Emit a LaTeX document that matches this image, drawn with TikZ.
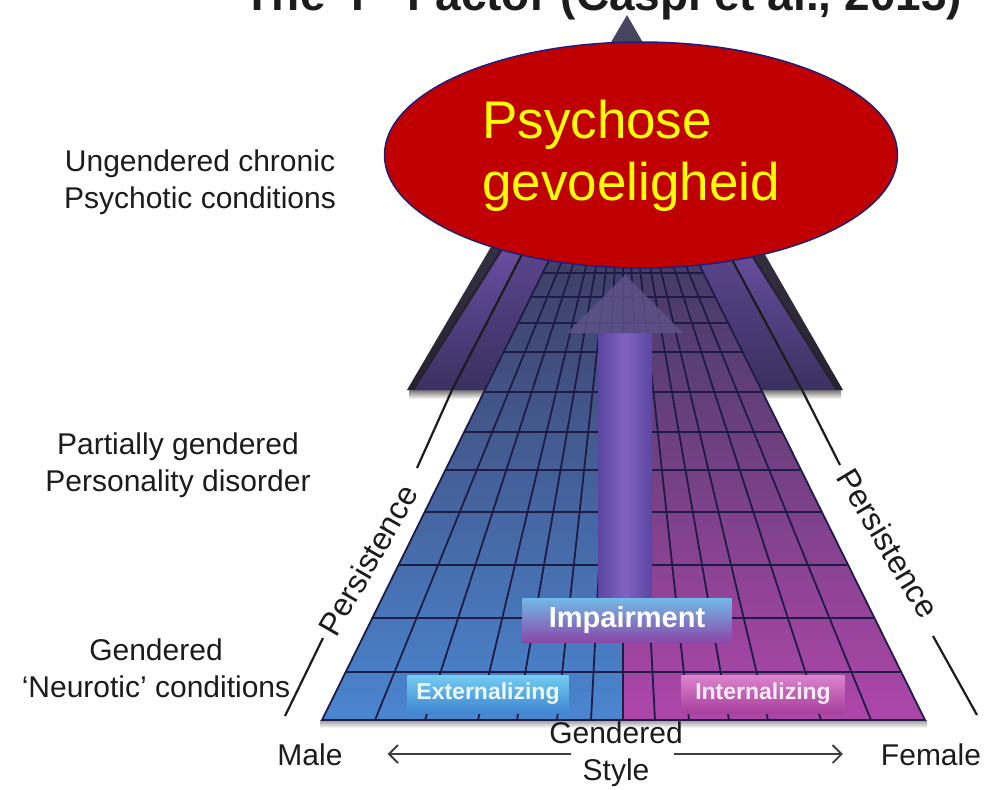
\documentclass[tikz,border=0pt]{standalone}
\usepackage{fontspec}
\setmainfont{Liberation Sans}
\usetikzlibrary{shapes.geometric, arrows.meta}

\definecolor{ink}{HTML}{1C1C1C}
\definecolor{triTop}{HTML}{4A4660}
\definecolor{triDark}{HTML}{262230}
\definecolor{bandHi}{HTML}{7858B6}
\definecolor{bandLo}{HTML}{3A3060}
\definecolor{gridTop}{HTML}{3E3B62}
\definecolor{gridMidL}{HTML}{5858AA}
\definecolor{gridBotL}{HTML}{4A86D0}
\definecolor{gridMidR}{HTML}{6C50AC}
\definecolor{gridBotR}{HTML}{AE46AA}
\definecolor{gridLine}{HTML}{1E1C46}
\definecolor{shaftEdge}{HTML}{5A46A0}
\definecolor{shaftMid}{HTML}{8262C2}
\definecolor{headCol}{HTML}{5E5288}
\definecolor{impTop}{HTML}{72BAE8}
\definecolor{impMid}{HTML}{5E5CB6}
\definecolor{impBot}{HTML}{8A48A8}
\definecolor{extTop}{HTML}{74CCF2}
\definecolor{extMid}{HTML}{4E9ADC}
\definecolor{extBot}{HTML}{3F86D0}
\definecolor{intTop}{HTML}{DA84CC}
\definecolor{intMid}{HTML}{B850B0}
\definecolor{intBot}{HTML}{A8409E}
\definecolor{psyRed}{HTML}{C00000}
\definecolor{psyEdge}{HTML}{1F1F7A}
\definecolor{psyText}{HTML}{FFFF00}

\tikzset{
  lbl/.style={font=\fontsize{30}{37}\selectfont, align=center, inner sep=0pt, text=ink},
  persist/.style={font=\fontsize{32}{36}\selectfont, inner sep=0pt, text=ink},
  sideline/.style={draw=ink, line width=2.2pt},
  gridline/.style={draw=gridLine, line width=1.8pt},
  tag/.style={inner sep=0pt, font=\bfseries\fontsize{23}{26}\selectfont},
  garrow/.style={draw=ink!85, line width=1.8pt, -{Straight Barb[length=9pt, width=18pt]}},
}

\begin{document}
\begin{tikzpicture}[x=1pt, y=-1pt]
\useasboundingbox (0,0) rectangle (984,789);
\clip (0,0) rectangle (984,789);
\fill[white] (0,0) rectangle (984,789);

% title, cut by the top edge
\node[font=\bfseries\fontsize{46}{50}\selectfont, text=ink, anchor=base, inner sep=0pt] (title) at (603,11) {The ‘P’ Factor (Caspi et al., 2013)};

% dark top of the pyramid
\coordinate (apex) at (627,15);
\coordinate (tl) at (407,390);
\coordinate (tr) at (843,390);
\shade[top color=triTop, bottom color=triDark] (tl) -- (apex) -- (tr) -- cycle;
\shade[top color=black!55, bottom color=white] (409,390) rectangle (841,399);
\begin{scope}
  \clip (tl) -- (apex) -- (tr) -- cycle;
  \shade[top color=bandHi, bottom color=bandLo] (413,390) -- (533,200) -- (550,200) -- (452,390) -- cycle;
  \shade[top color=bandHi!85!black, bottom color=bandLo] (452,390) -- (550,200) -- (579,200) -- (485,390) -- cycle;
  \shade[top color=bandHi, bottom color=bandLo] (837,390) -- (717,200) -- (700,200) -- (802,390) -- cycle;
  \shade[top color=bandHi!85!black, bottom color=bandLo] (802,390) -- (700,200) -- (667,200) -- (761,390) -- cycle;
  \draw[sideline, draw=triDark] (413,390) -- (533,200);
  \draw[sideline, draw=triDark] (837,390) -- (717,200);
\end{scope}

% grid
\shade[top color=black!40, bottom color=white] (320,720) rectangle (927,728);
\shade[top color=gridTop, middle color=gridMidL, bottom color=gridBotL]
  (322,720) -- (623,720) -- (623,240) -- (559,240) -- cycle;
\shade[top color=gridTop, middle color=gridMidR, bottom color=gridBotR]
  (623,720) -- (925,720) -- (687,240) -- (623,240) -- cycle;
\foreach \y in {720,672,618,565,512,470,432,392,352,323,297,273,250}{
  \pgfmathsetmacro{\w}{0.4943*(\y-111)}
  \draw[gridline] ({623-\w},\y) -- ({623+\w},\y);
}
\foreach \d in {32,66,106,145,198,248}{
  \draw[gridline] ({623-\d},720) -- ({623-0.2118*\d},240);
  \draw[gridline] ({623+\d},720) -- ({623+0.2118*\d},240);
}
\draw[gridline] (623,720) -- (623,240);
\draw[gridline] (559,240) -- (322,720) -- (925,720) -- (687,240);

% impairment arrow
\shade[left color=shaftEdge, right color=shaftEdge, middle color=shaftMid] (598,333) rectangle (652,600);
\fill[headCol, opacity=.85] (567,333) -- (625,275) -- (683,333) -- cycle;

% boxes
\node[tag, minimum width=209, minimum height=44, top color=impTop, middle color=impMid, bottom color=impBot, text=white,
  font=\bfseries\fontsize{29}{32}\selectfont] (impair) at (627,620) {Impairment};
\node[tag, minimum width=161, minimum height=38, top color=extTop, middle color=extMid, bottom color=extBot, text=cyan!8] (extern) at (488,694) {Externalizing};
\node[tag, minimum width=163, minimum height=38, top color=intTop, middle color=intMid, bottom color=intBot, text=magenta!8] (intern) at (763,694) {Internalizing};

% persistence lines
\draw[sideline] (285,716) -- (323,638);
\draw[sideline] (417,468) -- (452,390) -- (550,200);
\draw[sideline] (977,715) -- (933,636);
\draw[sideline] (840,465) -- (802,390) -- (700,200);
\node[persist, rotate=60] (persL) at (368,560) {Persistence};
\node[persist, rotate=-59] (persR) at (888,543) {Persistence};

% level labels
\node[lbl] (psychotic) at (200,182) {Ungendered chronic\\Psychotic conditions};
\node[lbl] (personality) at (178,465) {Partially gendered\\Personality disorder};
\node[lbl] (neurotic) at (156,668) {Gendered\\‘Neurotic’ conditions};

% gender axis
\node[lbl] (male) at (310,755) {Male};
\node[lbl] (female) at (931,755) {Female};
\node[lbl] (gstyle) at (616,754) {Gendered\\Style};
\draw[garrow, shorten <=45pt, shorten >=45pt] (gstyle.center) -- (gstyle.center -| male.east);
\draw[garrow, shorten <=58pt, shorten >=38pt] (gstyle.center) -- (gstyle.center -| female.west);

% red ellipse
\node[ellipse, draw=psyEdge, line width=1.5pt, fill=psyRed, minimum width=513, minimum height=226, inner sep=0pt] (psy) at (641,155) {};
\node[anchor=west, align=left, inner sep=0pt, text=psyText, font=\fontsize{53}{62}\selectfont] (psytext) at (482,156) {Psychose\\gevoeligheid};
\end{tikzpicture}
\end{document}
